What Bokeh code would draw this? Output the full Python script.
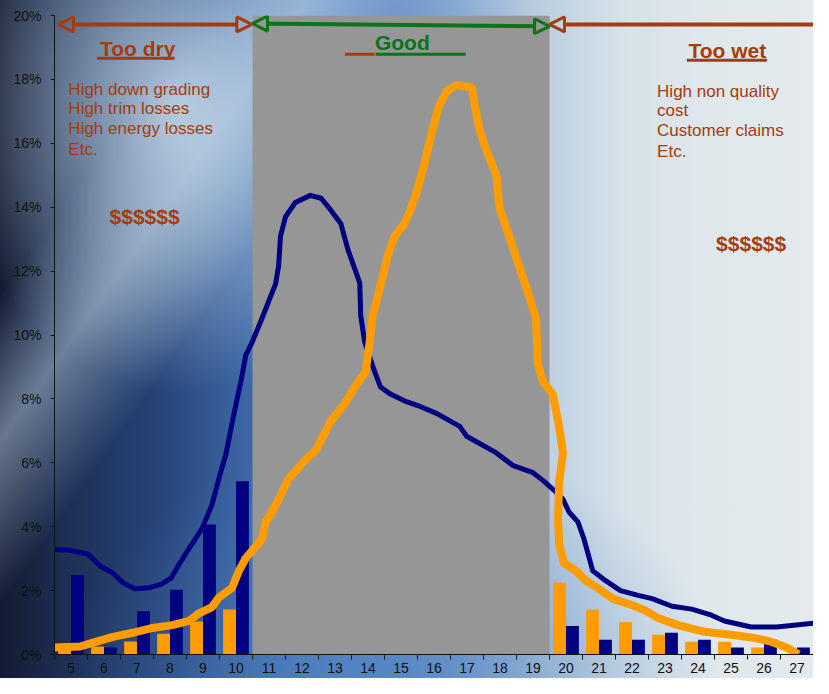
from bokeh.plotting import figure
from bokeh.models import (Range1d, FixedTicker, PrintfTickFormatter, Arrow, NormalHead,
                          ColumnDataSource)
from bokeh.transform import dodge
from bokeh.core.properties import value
from bokeh.embed import file_html
from bokeh.resources import INLINE

# ---------------- data ----------------
categories = list(range(5, 28))
blue_bars = [2.49, 0.22, 1.35, 2.03, 4.07, 5.42,
             0, 0, 0, 0, 0, 0, 0, 0, 0,
             0.89, 0.46, 0.46, 0.68, 0.46, 0.22, 0.46, 0.22]
orange_bars = [0.15, 0.25, 0.41, 0.65, 1.03, 1.41,
               0, 0, 0, 0, 0, 0, 0, 0, 0,
               2.25, 1.40, 1.02, 0.62, 0.40, 0.40, 0.22, 0.0]

blue_line_x = [4.50, 4.98, 5.52, 5.88, 6.27, 6.57, 6.93, 7.38, 7.74, 8.04, 8.28, 8.58,
               8.97, 9.27, 9.48, 9.70, 9.94, 10.15, 10.30, 10.48, 10.78, 11.20, 11.29,
               11.35, 11.50, 11.80, 12.25, 12.58, 12.88, 13.18, 13.39, 13.75, 13.78,
               13.90, 14.20, 14.38, 14.68, 15.10, 15.49, 16.09, 16.78, 16.99, 17.89,
               18.40, 19.00, 19.30, 19.64, 19.91, 20.09, 20.36, 20.54, 20.81, 21.20,
               21.65, 22.19, 22.61, 23.21, 23.81, 24.41, 24.80, 25.61, 26.39, 27.50]
blue_line_y = [3.29, 3.26, 3.14, 2.77, 2.55, 2.25, 2.06, 2.09, 2.20, 2.40, 2.83, 3.32,
               3.94, 4.68, 5.50, 6.30, 7.54, 8.55, 9.38, 9.75, 10.50, 11.60, 12.15,
               13.10, 13.70, 14.15, 14.37, 14.28, 13.90, 13.48, 12.68, 11.63, 10.60,
               9.78, 8.86, 8.37, 8.15, 7.94, 7.80, 7.54, 7.14, 6.83, 6.31,
               5.91, 5.69, 5.45, 5.14, 4.86, 4.46, 4.15, 3.63, 2.62, 2.31,
               2.00, 1.85, 1.75, 1.51, 1.42, 1.23, 1.05, 0.86, 0.86, 0.98]

orange_line_x = [4.50, 5.28, 5.67, 6.27, 6.87, 7.47, 8.07, 8.58, 8.88, 9.27, 9.48, 9.88,
                 10.09, 10.30, 10.78, 10.90, 11.14, 11.35, 11.59, 12.10, 12.43, 12.58,
                 12.88, 13.30, 13.60, 13.93, 14.05, 14.14, 14.38, 14.59, 14.80, 15.10,
                 15.28, 15.49, 15.73, 15.94, 16.15, 16.39, 16.69, 17.14, 17.35, 17.53,
                 17.89, 17.98, 18.28, 18.58, 18.88, 19.09, 19.15, 19.30, 19.60, 19.79,
                 19.91, 19.79, 19.76, 19.79, 19.94, 20.30, 20.60, 20.99, 21.41, 22.01,
                 22.40, 22.79, 23.39, 24.20, 25.01, 25.70, 26.21, 26.69, 27.05]
orange_line_y = [0.22, 0.25, 0.37, 0.55, 0.68, 0.83, 0.92, 1.05, 1.29, 1.48, 1.78, 2.09,
                 2.62, 3.02, 3.60, 4.15, 4.55, 4.98, 5.50, 6.09, 6.40, 6.71,
                 7.32, 7.85, 8.37, 8.86, 9.78, 10.60, 11.54, 12.46, 13.08, 13.48,
                 13.90, 14.52, 15.45, 16.37, 17.17, 17.63, 17.82, 17.75, 16.55, 15.94,
                 15.00, 14.00, 13.08, 12.15, 11.23, 10.52, 9.08, 8.55, 8.15, 7.14,
                 6.30, 5.38, 4.25, 3.45, 2.86, 2.62, 2.31, 2.06, 1.75, 1.54,
                 1.38, 1.14, 0.92, 0.71, 0.62, 0.52, 0.40, 0.22, 0.00]

zone_names = ["Too dry", "Good", "Too wet"]
zone_start = [4.62, 10.5, 19.5]
zone_end = [10.48, 19.5, 27.9]
good_from, good_to = 10.5, 19.5
y_ticks = [0, 2, 4, 6, 8, 10, 12, 14, 16, 18, 20]

dry_notes = ["High  down grading", "High trim losses", "High  energy losses", "Etc."]
wet_notes = ["High  non quality", "cost", "Customer claims", "Etc."]
cost_text = "$$$$$$"

# ---------------- styling ----------------
FONT = value("Liberation Sans")
BROWN = "#a53c0a"
GREEN = "#0b7418"
NAVY = "#000080"
ORANGE = "#ff9c00"

p = figure(width=813, height=678, output_backend="svg", toolbar_location=None,
           x_range=Range1d(4.5, 27.5), y_range=Range1d(0, 20),
           min_border_left=54, min_border_right=0, min_border_top=15, min_border_bottom=24)
p.border_fill_color = None
p.background_fill_color = None
p.outline_line_color = None
p.grid.visible = False
p.styles = {
    "background": (
        "radial-gradient(ellipse 28% 42% at 22% 16%, rgba(200,220,235,0.85) 0%, rgba(200,220,235,0.0) 100%), "
        "linear-gradient(125deg, rgba(255,255,255,0) 16%, rgba(185,208,228,0.5) 24%, rgba(255,255,255,0) 33%), "
        "radial-gradient(ellipse 40% 35% at 48% 100%, rgba(80,130,195,0.75) 0%, rgba(80,130,195,0) 100%), "
        "linear-gradient(90deg, #131b30 0%, #1d2f54 8%, #27457a 20%, #3f6cab 32%, #5a86c2 44%, "
        "#86a9d2 56%, #b9cde0 66%, #d5e1e8 76%, #e0e8ec 88%, #e4eaee 100%)"
    )
}

# axes
p.xaxis.ticker = FixedTicker(ticks=categories, minor_ticks=[c - 0.5 for c in categories] + [27.5])
p.xaxis.major_tick_line_color = None
p.xaxis.minor_tick_line_color = "#111111"
p.xaxis.minor_tick_out = 5
p.xaxis.minor_tick_in = 0
p.xaxis.major_tick_out = 5
p.xaxis.major_label_standoff = 3
p.xaxis.axis_line_color = "#111111"
p.xaxis.major_label_text_font = "Liberation Sans"
p.xaxis.major_label_text_font_size = "14px"
p.xaxis.major_label_text_color = "#111111"

p.yaxis.ticker = FixedTicker(ticks=y_ticks)
p.yaxis.formatter = PrintfTickFormatter(format="%d%%")
p.yaxis.minor_tick_line_color = None
p.yaxis.major_tick_out = 4
p.yaxis.major_tick_in = 0
p.yaxis.major_tick_line_color = "#111111"
p.yaxis.major_label_standoff = 9
p.yaxis.axis_line_color = "#111111"
p.yaxis.major_label_text_font = "Liberation Sans"
p.yaxis.major_label_text_font_size = "14px"
p.yaxis.major_label_text_color = "#111111"

# bars
src = ColumnDataSource(dict(cat=categories, blue=blue_bars, orange=orange_bars))
p.vbar(x=dodge("cat", -0.195, range=p.x_range), top="orange", width=0.39, bottom=0,
       source=src, fill_color=ORANGE, line_color=None)
p.vbar(x=dodge("cat", 0.195, range=p.x_range), top="blue", width=0.39, bottom=0,
       source=src, fill_color=NAVY, line_color=None)

# good zone
p.quad(left=[good_from], right=[good_to], bottom=[0], top=[20], fill_color="#969696", line_color=None)

# lines
p.line(blue_line_x, blue_line_y, line_color=NAVY, line_width=5, line_join="round")
p.line(orange_line_x, orange_line_y, line_color=ORANGE, line_width=8, line_join="round")

# zone arrows
arrow_colors = [BROWN, GREEN, BROWN]
arrow_y0 = [19.72, 19.75, 19.72]
arrow_y1 = [19.72, 19.66, 19.72]
for i in range(3):
    def head():
        return NormalHead(size=15, fill_color=None, line_color=arrow_colors[i], line_width=3)
    p.add_layout(Arrow(x_start=zone_start[i], y_start=arrow_y0[i],
                       x_end=zone_end[i], y_end=arrow_y1[i],
                       start=head(), end=head() if i < 2 else None,
                       line_color=arrow_colors[i], line_width=4))

# zone titles
p.text(x=[7.02, 15.04, 24.89], y=[18.98, 19.14, 18.92], text=zone_names,
       text_font=FONT, text_font_size="21px", text_font_style="bold",
       text_color=[BROWN, GREEN, BROWN], text_align="center", text_baseline="middle")
# underlines
p.segment(x0=[5.79, 13.30, 14.23, 23.66], x1=[8.14, 14.20, 16.96, 26.09],
          y0=[18.66, 18.79, 18.79, 18.60], y1=[18.66, 18.79, 18.79, 18.60],
          line_color=[BROWN, BROWN, GREEN, BROWN], line_width=3)

# notes
p.text(x=[4.92] * 4, y=[17.69, 17.08, 16.46, 15.82], text=dry_notes,
       text_font=FONT, text_font_size="17px", text_color=BROWN,
       text_align="left", text_baseline="middle")
p.text(x=[22.76] * 4, y=[17.63, 17.02, 16.40, 15.75], text=wet_notes,
       text_font=FONT, text_font_size="17px", text_color=BROWN,
       text_align="left", text_baseline="middle")
p.text(x=[7.23, 25.61], y=[13.72, 12.86], text=[cost_text, cost_text],
       text_font=FONT, text_font_size="21px", text_font_style="bold",
       text_color=BROWN, text_align="center", text_baseline="middle")

open("out.html", "w").write(file_html(p, INLINE))
